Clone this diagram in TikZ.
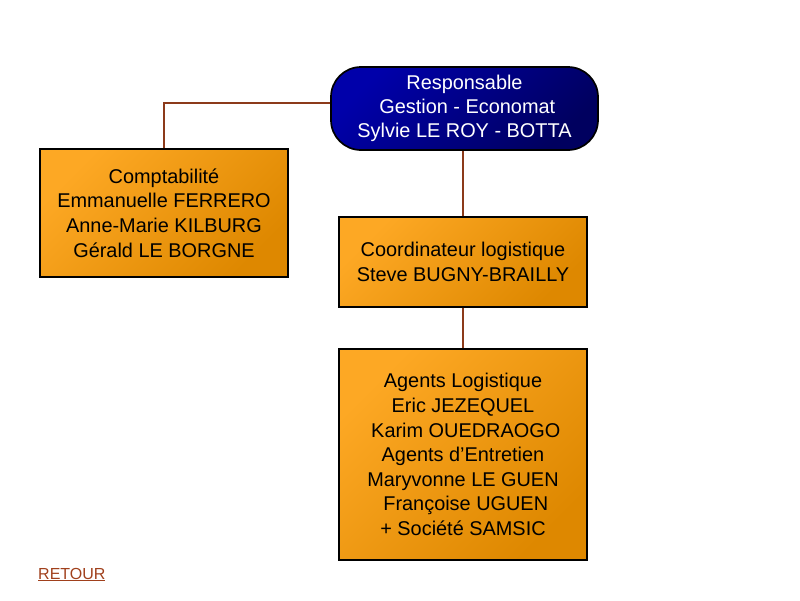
\documentclass[tikz,border=0pt]{standalone}
\usepackage{fontspec}
\setmainfont{Liberation Sans}
\usetikzlibrary{positioning}
\definecolor{orlight}{RGB}{253,168,36}
\definecolor{ordark}{RGB}{222,136,0}
\definecolor{bluelight}{RGB}{0,0,170}
\definecolor{bluedark}{RGB}{0,0,95}
\definecolor{linkbrown}{RGB}{140,58,26}
\definecolor{retourbrown}{RGB}{160,64,28}
\tikzset{
  orangebox/.style={draw=black, line width=1.7pt, inner sep=0pt,
    top color=orlight, bottom color=ordark, shading angle=45,
    minimum width=248pt, align=center,
    font=\fontsize{19.9}{24.6}\selectfont},
  chefbox/.style={draw=black, line width=1.7pt, inner sep=0pt,
    rounded corners=30pt, top color=bluelight, bottom color=bluedark,
    shading angle=45, minimum width=267pt, minimum height=83pt,
    align=center, text=white, font=\fontsize{19.9}{24.2}\selectfont},
  link/.style={draw=linkbrown, line width=1.5pt}
}

\begin{document}
\begin{tikzpicture}[x=1pt, y=-1pt]
\useasboundingbox (0,0) rectangle (800,600);
% responsable
\node [chefbox] (chef) at (464.5,108.5) {Responsable\\ \ Gestion - Economat\\Sylvie LE ROY - BOTTA};
% services
\node [orangebox, minimum height=128pt] (compta) at (164,213) {Comptabilit\'e\\Emmanuelle FERRERO\\Anne-Marie KILBURG\\G\'erald LE BORGNE};
\node [orangebox, minimum height=90pt] (coord) at (463,262) {Coordinateur logistique\\Steve BUGNY-BRAILLY};
\node [orangebox, minimum height=211pt] (agents) at (463,454.5) {Agents Logistique\\Eric JEZEQUEL\ \\ \ Karim OUEDRAOGO\\Agents d’Entretien\\Maryvonne LE GUEN\\ \ Fran\c{c}oise UGUEN\\+ Soci\'et\'e SAMSIC};
% liens
\draw [link] ([yshift=5.5pt]chef.west) -| (compta.north);
\draw [link] (coord.north |- chef.south) -- (coord.north);
\draw [link] (coord.south) -- (agents.north);
% retour
\node [anchor=base west, inner sep=0pt, text=retourbrown, font=\fontsize{16}{19}\selectfont] (retour) at (38,579) {\underline{RETOUR}};
\end{tikzpicture}
\end{document}
